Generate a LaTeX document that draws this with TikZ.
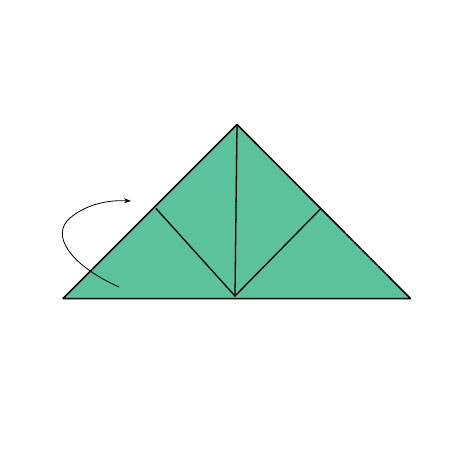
\documentclass[tikz,border=0pt]{standalone}
\usetikzlibrary{arrows.meta}
\definecolor{paper}{RGB}{92,193,157}
\tikzset{
  edge/.style={draw=black,line width=1.5pt,line join=round},
  crease/.style={draw=black,line width=1.3pt,line cap=round},
  foldarrow/.style={draw=black,line width=0.8pt,-{Stealth[length=7pt,width=5pt]}}
}
\begin{document}
\begin{tikzpicture}[x=1pt,y=-1pt]
\useasboundingbox (0,0) rectangle (474,474);
\coordinate (L) at (63,298.5);
\coordinate (R) at (410.5,298.5);
\coordinate (A) at (237,124.5);
\coordinate (M) at (235,296);
\coordinate (P) at (156,208.5);
\coordinate (Q) at (320.5,209);
\coordinate (S) at (119,287);
\coordinate (E) at (131,201);
\fill[paper] (L) -- (A) -- (R) -- cycle;
\draw[crease] (A) -- (M);
\draw[crease] (P) -- (M) -- (Q);
\draw[edge] (L) -- (A) -- (R) -- cycle;
\draw[foldarrow] (S) .. controls (70,265) and (50,235) .. (70,218) .. controls (88,203) and (110,200) .. (E);
\end{tikzpicture}
\end{document}
